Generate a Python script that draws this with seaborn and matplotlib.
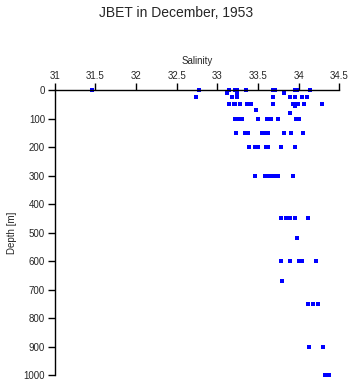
import pandas as pd
import seaborn as sns
import matplotlib.pyplot as plt

sns.set_style("white")
plt.rcParams['font.family'] = ['Liberation Sans', 'DejaVu Sans']

# depth [m] and salinity
depth = [0, 0, 0, 0, 0, 0, 0, 0, 0, 0, 0,
         10, 10, 10,
         25, 25, 25, 25, 25, 25, 25, 25,
         50, 50, 50, 50, 50, 50, 50, 50, 50, 50, 50, 50,
         55, 70, 80,
         100, 100, 100, 100, 100, 100, 100, 100, 100, 100,
         150, 150, 150, 150, 150, 150, 150, 150, 150,
         200, 200, 200, 200, 200, 200, 200,
         300, 300, 300, 300, 300, 300, 300, 300,
         450, 450, 450, 450, 450,
         520,
         600, 600, 600, 600, 600,
         670,
         750, 750, 750,
         900, 900,
         1000, 1000]
salinity = [31.46, 32.77, 33.15, 33.22, 33.24, 33.35, 33.69, 33.71, 33.96, 33.98, 34.14,
            33.12, 33.24, 33.82,
            32.74, 33.18, 33.24, 33.69, 33.89, 33.96, 34.04, 34.10,
            33.14, 33.20, 33.22, 33.28, 33.37, 33.41, 33.69, 33.93, 33.96, 33.99, 34.07, 34.29,
            33.96, 33.48, 33.89,
            33.22, 33.25, 33.27, 33.31, 33.50, 33.61, 33.66, 33.75, 33.97, 34.00,
            33.23, 33.34, 33.38, 33.55, 33.57, 33.62, 33.82, 33.91, 34.05,
            33.39, 33.46, 33.50, 33.60, 33.62, 33.78, 33.95,
            33.46, 33.59, 33.62, 33.65, 33.68, 33.70, 33.75, 33.93,
            33.78, 33.85, 33.89, 33.96, 34.11,
            33.98,
            33.78, 33.89, 34.00, 34.04, 34.22,
            33.80,
            34.12, 34.18, 34.24,
            34.13, 34.30,
            34.32, 34.37]

x_ticks = [31, 31.5, 32, 32.5, 33, 33.5, 34, 34.5]
x_labels = ['31', '31.5', '32', '32.5', '33', '33.5', '34', '34.5']
y_ticks = [0, 100, 200, 300, 400, 500, 600, 700, 800, 900, 1000]

df = pd.DataFrame({'Salinity': salinity, 'Depth': depth})

fig = plt.figure(figsize=(3.53, 3.84), dpi=100)
ax = fig.add_axes([0.155, 0.0234, 0.806, 0.7416])

sns.scatterplot(data=df, x='Salinity', y='Depth', ax=ax, marker='s', s=6,
                color='#0000ff', linewidth=0, clip_on=False)

ax.set_xlim(31, 34.5)
ax.set_ylim(1000, 0)
ax.set_xticks(x_ticks)
ax.set_xticklabels(x_labels)
ax.set_yticks(y_ticks)
ax.xaxis.tick_top()
ax.xaxis.set_label_position('top')
ax.tick_params(axis='both', direction='out', length=5, width=1, color='black',
               labelsize=7, pad=2, top=True, left=True, bottom=False, right=False)
for side in ['right', 'bottom']:
    ax.spines[side].set_visible(False)
for side in ['top', 'left']:
    ax.spines[side].set_color('black')
    ax.spines[side].set_linewidth(1)

ax.set_xlabel('Salinity', fontsize=7, labelpad=5)
ax.set_ylabel('Depth [m]', fontsize=7, labelpad=5)
fig.suptitle('JBET in December, 1953', fontsize=10, y=0.985)

fig.savefig('out.png', dpi=100)
